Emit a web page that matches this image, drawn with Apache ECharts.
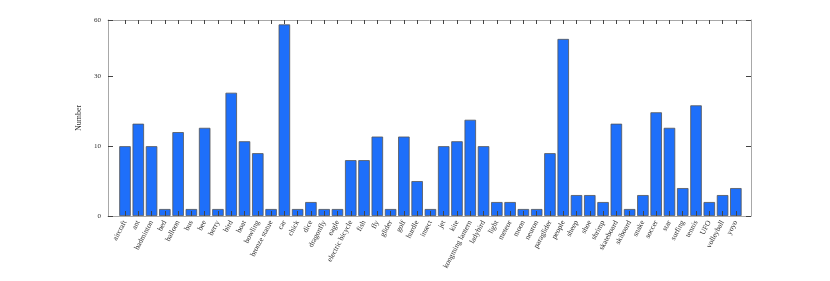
<!DOCTYPE html>
<html>
<head>
<meta charset="utf-8">
<script src="https://cdn.jsdelivr.net/npm/echarts@6/dist/echarts.min.js"></script>
<style>html,body{margin:0;padding:0;background:#fff}#c{width:830px;height:281px}</style>
</head>
<body>
<div id="c"></div>
<script>
const categories = ['aircraft','ant','badminton','bed','balloon','bus','bee','berry','bird','boat','bowling','bronze statue','car','chick','dice','dragonfly','eagle','electric bicycle','fish','fly','glider','golf','hurdle','insect','jet','kite','kongming lantern','ladybird','light','meteor','moon','neuron','paraglider','people','sheep','shoe','shrimp','skateboard','skiboard','snake','soccer','star','surfing','tennis','UFO','volleyball','yoyo'];
const counts = [10,15,10,1,13,1,14,1,24,11,9,1,57,1,2,1,1,8,8,12,1,12,5,1,10,11,16,10,2,2,1,1,9,48,3,3,2,15,1,3,18,14,4,20,2,3,4];
const yTicks = [0,10,30,60];
const yLabel = 'Number';

// axis scale: linear up to 10, then log10(1 + v/10)
function tf(v){ return v <= 10 ? (v/10)*Math.log10(2) : Math.log10(1 + v/10); }
const yTickPos = yTicks.map(tf);
const xPos = categories.map((c,i)=>i+1);

const chart = echarts.init(document.getElementById('c'), null, {renderer:'canvas'});
const FONT = 'Liberation Serif';
const lineC = '#a8a8a8', tickC = '#444';
function yFmt(val){
  let best=0, bd=1e9;
  yTickPos.forEach((p,i)=>{const d=Math.abs(p-val); if(d<bd){bd=d;best=i;}});
  return String(yTicks[best]);
}
chart.setOption({
  animation:false,
  grid:{left:108, right:79, top:20, bottom:65, containLabel:false},
  xAxis:[{
    type:'value', min:-0.28, max:48.14, position:'bottom', z:5,
    axisLine:{show:true, onZero:false, lineStyle:{color:lineC, width:1}},
    axisTick:{show:true, inside:true, length:5, customValues:xPos, lineStyle:{color:tickC, width:1}},
    axisLabel:{show:true, customValues:xPos, rotate:62, fontSize:7.5, fontFamily:FONT, color:'#333', margin:5,
      formatter:(v)=>categories[Math.round(v)-1] || ''},
    splitLine:{show:false}
  },{
    type:'value', min:-0.28, max:48.14, position:'top', z:5,
    axisLine:{show:true, onZero:false, lineStyle:{color:lineC, width:1}},
    axisTick:{show:true, inside:true, length:4, customValues:xPos, lineStyle:{color:tickC, width:1}},
    axisLabel:{show:false},
    splitLine:{show:false}
  }],
  yAxis:[{
    type:'value', min:0, max:tf(60), position:'left', z:5,
    name:yLabel, nameLocation:'middle', nameGap:16, nameRotate:90,
    nameTextStyle:{fontFamily:FONT, fontSize:8, color:'#333'},
    axisLine:{show:true, onZero:false, lineStyle:{color:lineC, width:1}},
    axisTick:{show:true, inside:true, length:5, customValues:yTickPos, lineStyle:{color:tickC, width:1}},
    axisLabel:{show:true, customValues:yTickPos, fontSize:7, fontFamily:FONT, color:'#333', margin:7, formatter:yFmt},
    splitLine:{show:false}
  },{
    type:'value', min:0, max:tf(60), position:'right', z:5,
    axisLine:{show:true, onZero:false, lineStyle:{color:lineC, width:1}},
    axisTick:{show:true, inside:true, length:5, customValues:yTickPos, lineStyle:{color:tickC, width:1}},
    axisLabel:{show:false},
    splitLine:{show:false}
  }],
  series:[{
    type:'bar', xAxisIndex:0, yAxisIndex:0, z:2,
    barWidth:11.5,
    data: counts.map((v,i)=>[xPos[i], tf(v)]),
    itemStyle:{color:'#1e6ffa', borderColor:'#555', borderWidth:0.8}
  }]
});
</script>
</body>
</html>
